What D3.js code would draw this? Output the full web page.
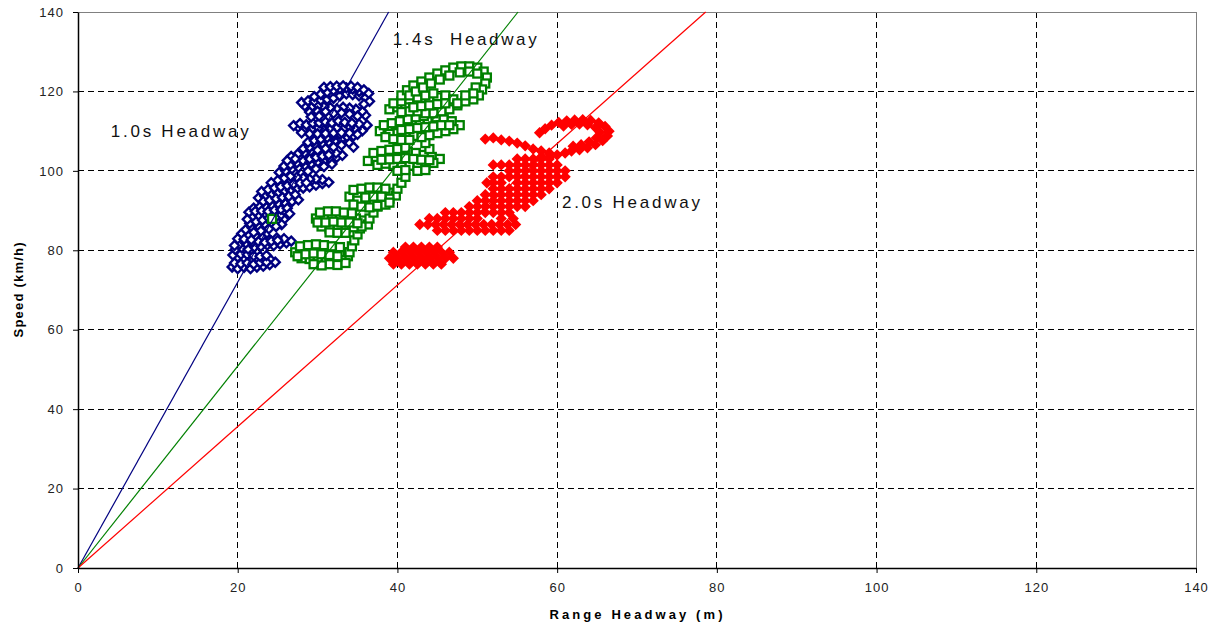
<!DOCTYPE html>
<html><head><meta charset="utf-8">
<script src="https://cdn.jsdelivr.net/npm/d3@7"></script>
<style>
body{margin:0;background:#fff;}
svg{display:block;font-family:"Liberation Sans",Arial,sans-serif;}
</style>
</head><body>
<svg id="chart" width="1217" height="625"></svg>
<script>
// ---------------- data ----------------
const xTicks = [0, 20, 40, 60, 80, 100, 120, 140];
const yTicks = [0, 20, 40, 60, 80, 100, 120, 140];

// reference headway lines (range m, speed km/h)
const line10 = [[0, 0], [38.9, 140]];
const line14 = [[0, 0], [55.1, 140]];
const line20 = [[0, 0], [78.6, 140]];

const labelNames = ["1.0s Headway", "1.4s  Headway", "2.0s Headway"];
const labelRange = [4.1, 39.4, 60.6];
const labelSpeed = [108.5, 131.7, 90.7];

// 1.0 s headway runs (range m, speed km/h)
const blueData = [
 [19.3,75.8],[20.0,75.4],[20.8,75.7],[21.6,75.4],[22.4,75.8],[23.2,76.0],[24.0,76.4],[24.7,77.0],[24.0,77.8],[23.2,77.5],[22.4,77.3],[21.6,77.6],[20.8,77.9],[20.0,78.3],[19.4,78.8],
 [19.6,76.8],[20.4,76.6],[21.2,76.8],[22.0,76.5],[22.8,76.9],[23.6,77.0],[20.4,79.0],[21.2,78.9],[22.0,78.6],[22.8,78.5],[23.6,78.7],
 [19.7,80.2],[20.5,80.6],[21.3,80.3],[22.1,80.8],[22.9,81.0],[23.7,81.3],[24.5,81.2],[25.3,81.6],[26.1,81.9],[26.7,82.3],[25.8,82.9],[24.9,83.1],[24.0,82.7],[23.1,83.2],[22.2,83.6],[21.3,83.9],[20.5,84.2],
 [20.2,81.5],[21.0,81.8],[21.8,82.0],[22.6,82.2],[23.4,82.0],[24.2,82.3],[25.0,82.5],[20.0,82.9],[20.8,82.8],[21.7,82.6],[19.6,81.2],
 [21.0,85.2],[21.8,85.7],[22.6,86.1],[23.4,86.6],[24.2,87.0],[25.0,87.3],[25.8,87.8],[25.3,88.7],[24.4,89.0],[23.5,89.1],[22.6,88.6],[21.8,88.2],[21.4,89.6],[22.0,90.6],[22.8,91.0],[23.6,90.8],[24.4,91.1],[25.2,91.5],[26.0,91.8],[26.8,92.3],[27.6,92.7],
 [21.5,86.8],[22.3,87.2],[23.1,87.6],[23.9,88.1],[24.7,88.2],[25.5,86.5],[21.2,87.8],[22.2,89.8],[23.0,89.9],[23.8,89.8],[24.6,90.1],[25.4,90.3],[26.2,90.6],[26.5,89.2],[24.8,86.0],[23.9,85.4],[22.9,84.9],[22.0,84.5],
 [22.6,93.2],[23.4,93.6],[24.2,94.0],[25.0,94.4],[25.8,94.8],[26.6,95.1],[27.4,95.5],[28.2,95.7],[29.0,96.0],[29.8,96.4],[30.6,96.8],[31.4,97.1],[30.6,97.8],[29.8,98.0],[29.0,97.9],[28.2,98.2],[27.4,98.4],[26.6,98.6],[25.8,98.1],[25.0,97.6],[24.2,97.0],
 [23.0,94.8],[23.8,95.3],[24.6,95.7],[25.4,96.0],[26.2,96.3],[27.0,96.7],[27.8,96.9],[28.6,97.0],[23.2,92.3],[24.0,92.6],[24.8,93.0],[25.6,93.3],[26.4,93.6],[27.2,94.0],
 [25.2,99.6],[26.0,100.0],[26.8,100.5],[27.6,100.9],[28.4,101.4],[29.2,101.8],[30.0,102.2],[30.8,102.6],[31.6,103.0],[32.4,103.4],[33.1,103.9],[32.3,104.5],[31.5,104.7],[30.7,104.9],[29.9,104.6],[29.1,104.9],[28.3,104.5],[27.5,104.2],[26.7,103.6],
 [25.8,101.2],[26.6,101.6],[27.4,102.0],[28.2,102.5],[29.0,103.0],[29.8,103.4],[30.6,103.7],[31.4,104.0],[26.2,102.6],[27.2,103.0],[28.8,99.9],[29.8,100.5],[30.8,101.1],[31.8,101.7],
 [28.2,105.6],[29.0,106.0],[29.8,106.4],[30.6,106.9],[31.4,107.3],[32.2,107.6],[33.0,108.0],[33.8,108.4],[34.5,108.8],
 [28.8,107.2],[29.6,107.6],[30.4,108.0],[31.2,108.4],[32.0,108.8],[32.8,109.2],[30.0,105.2],[31.0,105.6],[32.0,106.0],[33.0,106.5],[34.0,107.0],[34.5,106.0],
 [35.6,110.1],[34.8,110.5],[34.0,110.8],[33.2,110.5],[32.4,110.8],[31.6,110.5],[30.8,110.3],[30.0,110.6],[29.2,110.4],[28.4,110.7],[27.6,110.9],[27.0,111.4],[27.8,111.9],[28.6,111.6],[29.4,112.0],[30.2,112.1],[31.0,112.3],[31.8,112.1],[32.6,112.5],[33.4,112.2],
 [28.0,109.6],[29.0,109.3],[30.0,109.3],[31.0,109.4],[32.0,109.5],[33.0,109.6],[34.0,109.5],[35.0,109.2],[36.2,111.5],[35.2,111.8],[34.3,112.0],
 [36.0,114.0],[35.6,115.0],[34.8,115.5],[34.0,115.8],[33.2,116.0],[32.4,115.6],[31.6,115.9],[30.8,116.1],[30.0,116.3],[29.2,116.0],[28.4,116.4],[28.0,117.2],[28.8,117.6],[29.6,117.5],[30.4,117.8],[31.2,118.0],[32.0,118.3],[32.8,118.9],[33.6,119.4],[34.4,119.2],[35.2,118.9],[36.0,118.4],[36.5,117.5],[35.8,116.8],
 [29.0,114.8],[30.0,115.0],[31.0,114.9],[32.0,114.5],[33.0,114.6],[34.0,114.3],[35.0,113.8],[29.2,113.6],[30.2,113.8],
 [29.6,118.7],[30.4,119.3],[31.2,119.8],[32.0,120.3],[32.8,120.7],[33.6,120.9],[34.4,120.6],[35.2,120.0],
 [30.8,121.0],[31.6,121.2],[32.4,121.3],[33.2,121.4],[34.2,121.3],[35.0,121.0],[35.8,120.4],[36.4,119.5]
];

// 1.4 s headway runs
const greenData = [
 [27.2,79.5],[28.2,80.0],[29.2,80.3],[30.2,80.5],[31.2,80.3],[32.2,80.0],[33.2,79.5],[33.8,78.5],[33.0,77.5],[32.0,77.0],[31.0,77.0],[30.0,77.5],[29.0,77.8],[28.0,78.0],[27.5,78.5],[31.5,76.5],[32.5,76.3],[33.5,76.8],
 [27.8,81.0],[28.8,81.3],[29.8,81.5],[30.8,81.3],[31.8,81.0],[32.8,80.8],[28.5,79.0],[29.5,79.2],[30.5,79.0],[31.5,78.8],[32.5,78.5],[30.5,76.2],[29.5,76.5],
 [34.0,79.5],[34.3,81.0],[34.6,82.5],[35.0,84.0],[35.3,85.5],
 [29.8,88.0],[30.8,88.5],[31.8,88.8],[32.8,88.5],[33.8,88.3],[34.8,88.0],[35.8,87.5],[36.3,86.5],[35.5,86.0],[34.5,85.8],[33.5,85.5],[32.5,85.8],[31.5,85.5],[30.5,86.0],[30.0,87.0],
 [30.3,89.5],[31.3,89.8],[32.3,89.8],[33.3,89.5],[34.3,89.3],[31.0,87.0],[32.0,87.2],[33.0,87.0],[34.0,87.0],[35.0,86.8],[31.5,84.5],[32.5,84.4],[33.5,84.4],
 [36.5,88.0],[37.0,89.5],[37.5,91.0],
 [34.0,93.5],[35.0,94.0],[36.0,94.5],[37.0,94.8],[38.0,94.5],[39.0,94.5],[39.8,93.8],[39.0,93.0],[38.0,92.5],[37.0,92.3],[36.0,92.0],[35.0,92.5],[34.5,91.5],[35.5,91.0],[36.5,90.8],[37.5,91.2],[38.5,91.5],
 [34.5,95.2],[35.5,95.5],[36.5,95.8],[37.5,95.8],[38.5,95.5],[36.0,93.3],[37.0,93.5],[38.0,93.5],[39.0,92.0],
 [40.0,95.5],[40.5,97.0],[41.0,98.5],
 [36.3,102.5],[37.3,103.0],[38.3,103.5],[39.3,104.0],[40.3,104.5],[41.3,104.8],[42.3,104.5],[43.3,104.0],[44.3,103.5],[45.3,103.0],[44.5,102.0],[43.5,101.5],[42.5,101.0],[41.5,101.3],[40.5,101.0],[39.5,101.5],[38.5,101.8],[37.5,101.5],[42.5,100.0],
 [37.0,104.5],[38.0,105.0],[39.0,105.3],[40.0,105.5],[41.0,105.8],[38.0,102.8],[39.0,102.9],[40.0,103.0],[41.0,103.2],[42.0,103.0],[43.0,102.8],[44.0,102.7],[40.0,100.0],[41.0,100.2],[43.5,100.2],
 [44.0,105.5],[43.5,107.0],
 [37.8,110.0],[38.8,110.5],[39.8,111.0],[40.8,111.5],[41.8,112.0],[42.8,112.5],[43.8,113.0],[44.8,113.5],[45.8,113.0],[46.8,112.5],[47.8,111.5],[47.0,110.5],[46.0,110.0],[45.0,109.5],[44.0,109.0],[43.0,108.5],[42.0,108.8],[41.0,109.0],[40.0,109.5],[39.0,109.3],[38.5,108.5],
 [38.3,111.5],[39.3,112.0],[40.3,112.5],[41.3,113.0],[42.3,113.5],[43.3,113.8],[40.5,110.3],[41.5,110.5],[42.5,110.8],[43.5,111.0],[44.5,111.2],[45.5,111.5],[46.5,111.5],[39.5,108.0],[40.5,107.8],[41.5,107.8],
 [39.0,115.5],[40.0,116.0],[41.0,116.5],[42.0,117.0],[43.0,117.5],[44.0,118.0],[45.0,118.5],[46.0,119.0],[47.0,118.0],[47.5,116.5],[46.5,115.5],[45.5,115.0],[44.5,114.5],[43.5,114.5],[42.5,115.0],[41.5,115.0],[40.5,114.8],
 [39.5,117.0],[40.5,117.5],[41.5,118.0],[42.5,118.5],[43.5,119.0],[44.5,119.5],[42.0,116.0],[43.0,116.3],[44.0,116.5],[45.0,116.8],[46.0,117.0],
 [40.5,119.0],[41.2,120.3],[42.0,121.5],[43.0,122.5],[44.0,123.5],[45.0,124.5],[46.0,125.3],[47.0,126.0],[48.0,126.3],[49.0,126.3],[50.0,126.0],[50.8,125.0],[51.2,123.5],[51.0,122.0],[50.6,120.5],[50.2,119.0],[49.5,118.0],[48.5,117.5],[47.5,117.0],
 [41.5,119.0],[42.3,120.0],[43.2,121.0],[44.2,122.0],[45.3,123.0],[46.5,124.0],[47.8,124.8],[49.0,125.0],[50.0,124.5],[49.8,121.0],[49.5,119.5],[48.5,119.0],
 [24.3,87.9]
];

// 2.0 s headway runs
const redData = [
 [39.5,76.5],[40.5,76.5],[41.5,76.5],[42.5,76.5],[43.5,76.5],[44.5,76.5],[45.5,76.5],
 [39.0,78.0],[40.0,78.0],[41.0,78.0],[42.0,78.0],[43.0,78.0],[44.0,78.0],[45.0,78.0],[46.0,78.0],[47.0,78.0],
 [39.5,79.5],[40.5,79.5],[41.5,79.5],[42.5,79.5],[43.5,79.5],[44.5,79.5],[45.5,79.5],[46.5,79.5],
 [41.0,80.8],[42.0,80.8],[43.0,80.8],[44.0,80.8],[45.0,80.8],
 [45.0,85.0],[46.0,85.0],[47.0,85.0],[48.0,85.0],[49.0,85.0],[50.0,85.0],[51.0,85.0],[52.0,85.0],[53.0,85.0],[54.0,85.0],
 [42.8,86.5],[43.8,86.5],[44.8,86.5],[45.8,86.5],[46.8,86.5],[47.8,86.5],[48.8,86.5],[49.8,86.5],[50.8,86.5],[51.8,86.5],[52.8,86.5],[53.8,86.5],[54.8,86.5],
 [44.0,88.0],[45.0,88.0],[46.0,88.0],[47.0,88.0],[48.0,88.0],[49.0,88.0],[50.0,88.0],[53.0,88.0],[54.5,88.0],
 [46.0,89.5],[47.0,89.5],[48.0,89.5],[49.0,89.5],[50.0,89.5],[51.0,89.5],[52.0,89.5],[53.0,89.5],[54.0,89.5],
 [49.0,91.0],[50.0,91.0],[51.0,91.0],[52.0,91.0],[53.0,91.0],[54.0,91.0],[55.0,91.0],[56.0,91.0],
 [50.0,92.5],[51.0,92.5],[52.0,92.5],[53.0,92.5],[54.0,92.5],[55.0,92.5],[56.0,92.5],[57.0,92.5],
 [51.0,94.0],[52.0,94.0],[53.0,94.0],[54.0,94.0],[55.0,94.0],[56.0,94.0],[57.0,94.0],[58.0,94.0],
 [52.0,95.5],[53.0,95.5],[54.0,95.5],[55.0,95.5],[56.0,95.5],[57.0,95.5],[58.0,95.5],[59.0,95.5],
 [51.2,97.0],[52.0,97.0],[53.0,97.0],[55.0,97.0],[56.0,97.0],[57.0,97.0],[58.0,97.0],[59.0,97.0],[60.0,97.0],
 [52.0,98.5],[53.0,98.5],[54.0,98.5],[55.0,98.5],[56.0,98.5],[57.0,98.5],[58.0,98.5],[59.0,98.5],[60.0,98.5],[61.0,98.5],
 [54.0,100.0],[55.0,100.0],[56.0,100.0],[57.0,100.0],[58.0,100.0],[59.0,100.0],[60.0,100.0],[61.0,100.0],
 [52.0,101.5],[53.0,101.5],[54.0,101.5],[55.0,101.5],[56.0,101.5],[57.0,101.5],[58.0,101.5],[59.0,101.5],[60.0,101.5],
 [55.0,103.0],[56.0,103.0],[57.0,103.0],[58.0,103.0],[59.0,103.0],
 [58.0,103.5],[59.0,103.5],[60.0,104.0],[61.0,104.5],
 [51.0,108.0],[52.0,108.3],[53.0,107.8],[54.0,107.5],[55.0,107.0],[56.0,106.3],[57.0,105.5],[58.0,105.0],[59.0,104.5],
 [57.8,109.6],[58.5,110.6],[59.3,111.5],[60.2,112.2],[61.2,112.6],[62.2,112.8],[63.2,112.9],[64.2,112.7],[65.2,112.1],[66.0,111.2],[66.5,110.0],[66.3,108.8],[65.7,107.6],[64.8,106.6],[63.8,105.8],[62.8,105.3],[61.8,105.0],
 [60.8,111.3],[61.8,111.7],[62.8,111.8],[63.8,111.6],[64.8,110.9],[65.4,109.6],[64.9,108.3],[64.0,107.3],[63.0,106.6],[62.0,106.2]
];

// ---------------- chart ----------------
const svg = d3.select("#chart");
const x = d3.scaleLinear().domain([0, 140]).range([78, 1196]);
const y = d3.scaleLinear().domain([0, 140]).range([568, 12]);

// gridlines
const grid = svg.append("g");
grid.selectAll("line.h").data(yTicks.filter(t => t > 0 && t < 140)).join("line")
  .attr("x1", x(0)).attr("x2", x(140)).attr("y1", d => y(d)).attr("y2", d => y(d))
  .attr("stroke", "#000").attr("stroke-dasharray", "6,4").attr("stroke-width", 1).attr("shape-rendering", "crispEdges");
grid.selectAll("line.v").data(xTicks.filter(t => t > 0 && t < 140)).join("line")
  .attr("y1", y(0)).attr("y2", y(140)).attr("x1", d => x(d)).attr("x2", d => x(d))
  .attr("stroke", "#000").attr("stroke-dasharray", "6,4").attr("stroke-width", 1).attr("shape-rendering", "crispEdges");

// top/right frame
svg.append("path")
  .attr("d", `M${x(0)},${y(140)}H${x(140)}V${y(0)}`)
  .attr("fill", "none").attr("stroke", "#808080").attr("stroke-width", 1).attr("shape-rendering", "crispEdges");

// markers
const diamond = r => `M0,${-r}L${r},0L0,${r}L${-r},0Z`;
svg.append("g").selectAll("path").data(blueData).join("path")
  .attr("d", diamond(4.5))
  .attr("transform", d => `translate(${x(d[0])},${y(d[1])})`)
  .attr("fill", "#fff").attr("stroke", "#000080").attr("stroke-width", 2.4);

svg.append("g").selectAll("rect").data(greenData).join("rect")
  .attr("x", d => x(d[0]) - 4).attr("y", d => y(d[1]) - 4)
  .attr("width", 8).attr("height", 8)
  .attr("fill", "#fff").attr("stroke", "#008000").attr("stroke-width", 2.3);

svg.append("g").selectAll("path").data(redData).join("path")
  .attr("d", diamond(4.6))
  .attr("transform", d => `translate(${x(d[0])},${y(d[1])})`)
  .attr("fill", "#ff0000").attr("stroke", "#ff0000").attr("stroke-width", 1.5);

// headway lines
const lineGen = d3.line().x(d => x(d[0])).y(d => y(d[1]));
[[line10, "#000080"], [line14, "#008000"], [line20, "#ff0000"]].forEach(([pts, c]) => {
  svg.append("path").attr("d", lineGen(pts)).attr("fill", "none").attr("stroke", c).attr("stroke-width", 1.2);
});

// axes
const xAxis = d3.axisBottom(x).tickValues(xTicks).tickSize(5).tickSizeOuter(0).tickPadding(10);
const gx = svg.append("g").attr("transform", `translate(0,${y(0)})`).call(xAxis);
gx.select(".domain").attr("stroke", "#000").attr("stroke-width", 1.5);
gx.selectAll(".tick line").attr("stroke", "#000");
gx.selectAll(".tick text").attr("font-size", 13).attr("fill", "#222").attr("letter-spacing", "1px")
  .attr("font-family", '"Liberation Sans",Arial,sans-serif');

const yAxis = d3.axisLeft(y).tickValues(yTicks).tickSize(5).tickSizeOuter(0).tickPadding(9);
const gy = svg.append("g").attr("transform", `translate(${x(0)},0)`).call(yAxis);
gy.select(".domain").attr("stroke", "#000").attr("stroke-width", 1.5);
gy.selectAll(".tick line").attr("stroke", "#000");
gy.selectAll(".tick text").attr("font-size", 13).attr("fill", "#222").attr("letter-spacing", "1px")
  .attr("font-family", '"Liberation Sans",Arial,sans-serif');

// axis titles
svg.append("text").attr("x", 636).attr("y", 619).attr("text-anchor", "middle")
  .attr("font-size", 13).attr("font-weight", "bold").attr("fill", "#000")
  .attr("textLength", 173).attr("lengthAdjust", "spacing")
  .text("Range Headway (m)");
svg.append("text").attr("transform", "translate(23,290) rotate(-90)").attr("text-anchor", "middle")
  .attr("font-size", 13).attr("font-weight", "bold").attr("fill", "#000")
  .attr("textLength", 95).attr("lengthAdjust", "spacing")
  .text("Speed (km/h)");

// annotations
const labelWidths = [138, 144, 138];
svg.append("g").selectAll("text").data(labelNames).join("text")
  .attr("x", (d, i) => x(labelRange[i])).attr("y", (d, i) => y(labelSpeed[i]))
  .attr("font-size", 17).attr("fill", "#111")
  .attr("textLength", (d, i) => labelWidths[i]).attr("lengthAdjust", "spacing")
  .attr("xml:space", "preserve").style("white-space", "pre")
  .text(d => d);
</script>
</body></html>
